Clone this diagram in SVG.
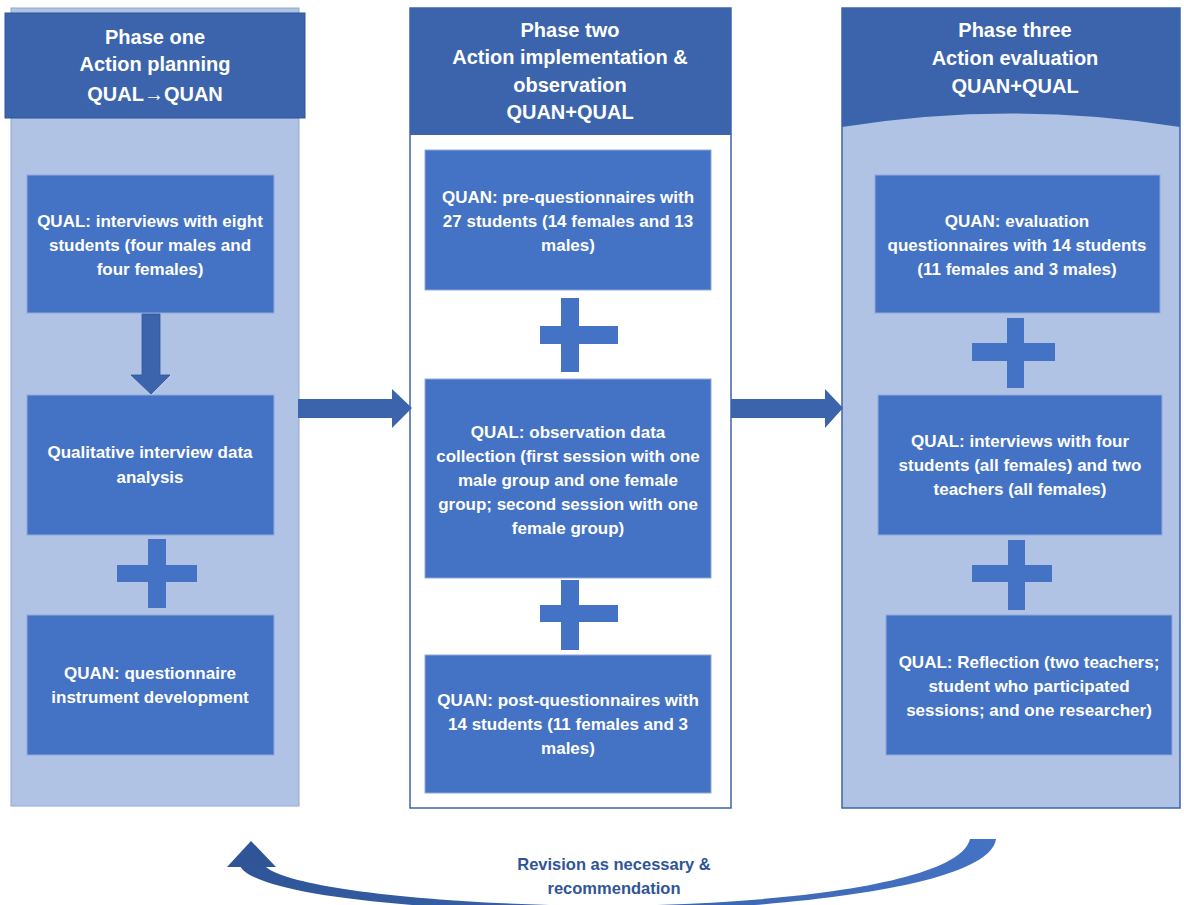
<svg xmlns="http://www.w3.org/2000/svg" width="1184" height="905" viewBox="0 0 1184 905">
<defs>
<style>
.hd{font-family:"Liberation Sans",Arial,sans-serif;font-weight:bold;font-size:20px;fill:#fff;text-anchor:middle}
.bt{font-family:"Liberation Sans",Arial,sans-serif;font-weight:bold;font-size:17px;fill:#fff;text-anchor:middle}
.box{fill:#4472C4;stroke:#8FAADC;stroke-width:1}
.dark{fill:#3C64AD}
.plus{fill:#4472C4}
.lt{fill:#B0C3E4}
.rv{font-family:"Liberation Sans",Arial,sans-serif;font-weight:bold;font-size:16.5px;fill:#2F5597;text-anchor:middle}
</style>
<linearGradient id="g" x1="0" y1="0" x2="1" y2="0">
<stop offset="0" stop-color="#2F5597"/>
<stop offset="1" stop-color="#4472C4"/>
</linearGradient>
</defs>
<rect width="1184" height="905" fill="#fff"/>

<g id="phase1">
<rect x="11" y="8" width="288" height="798" class="lt" stroke="#8EA8D8" stroke-width="1"/>
<rect x="5" y="13" width="300" height="105" class="dark" stroke="#2F5597" stroke-width="1"/>
<text class="hd" x="155" y="44">Phase one</text>
<text class="hd" x="155" y="71">Action planning</text>
<text class="hd" x="155" y="101">QUAL→QUAN</text>
</g>

<g id="phase2">
<rect x="410" y="8" width="321" height="800" fill="#fff" stroke="#3C64AD" stroke-width="1.5"/>
<rect x="410" y="8" width="321" height="127" class="dark"/>
<text class="hd" x="570" y="37">Phase two</text>
<text class="hd" x="570" y="64">Action implementation &amp;</text>
<text class="hd" x="570" y="92">observation</text>
<text class="hd" x="570" y="119">QUAN+QUAL</text>
</g>

<g id="phase3">
<rect x="842" y="8" width="338" height="800" class="lt" stroke="#3C64AD" stroke-width="1.5"/>
<path d="M842 8 H1180 V127 Q1011 100 842 127 Z" class="dark"/>
<text class="hd" x="1015" y="37">Phase three</text>
<text class="hd" x="1015" y="65">Action evaluation</text>
<text class="hd" x="1015" y="93">QUAN+QUAL</text>
</g>

<g id="box1"><rect x="27" y="175" width="247" height="138" class="box"/>
<text class="bt" x="150" y="227">QUAL: interviews with eight</text>
<text class="bt" x="150" y="251">students (four males and</text>
<text class="bt" x="150" y="275">four females)</text></g>

<g id="box2"><rect x="27" y="395" width="247" height="140" class="box"/>
<text class="bt" x="150" y="458">Qualitative interview data</text>
<text class="bt" x="150" y="483">analysis</text></g>

<g id="box3"><rect x="27" y="615" width="247" height="140" class="box"/>
<text class="bt" x="150" y="679">QUAN: questionnaire</text>
<text class="bt" x="150" y="703">instrument development</text></g>

<g id="boxA"><rect x="425" y="150" width="286" height="140" class="box"/>
<text class="bt" x="568" y="203">QUAN: pre-questionnaires with</text>
<text class="bt" x="568" y="227">27 students (14 females and 13</text>
<text class="bt" x="568" y="251">males)</text></g>

<g id="boxB"><rect x="425" y="379" width="286" height="199" class="box"/>
<text class="bt" x="568" y="438">QUAL: observation data</text>
<text class="bt" x="568" y="462">collection (first session with one</text>
<text class="bt" x="568" y="486">male group and one female</text>
<text class="bt" x="568" y="510">group; second session with one</text>
<text class="bt" x="568" y="534">female group)</text></g>

<g id="boxC"><rect x="425" y="655" width="286" height="138" class="box"/>
<text class="bt" x="568" y="706">QUAN: post-questionnaires with</text>
<text class="bt" x="568" y="730">14 students (11 females and 3</text>
<text class="bt" x="568" y="754">males)</text></g>

<g id="boxD"><rect x="875" y="175" width="285" height="138" class="box"/>
<text class="bt" x="1017" y="227">QUAN: evaluation</text>
<text class="bt" x="1017" y="251">questionnaires with 14 students</text>
<text class="bt" x="1017" y="275">(11 females and 3 males)</text></g>

<g id="boxE"><rect x="878" y="395" width="284" height="140" class="box"/>
<text class="bt" x="1020" y="447">QUAL: interviews with four</text>
<text class="bt" x="1020" y="471">students (all females) and  two</text>
<text class="bt" x="1020" y="495">teachers (all females)</text></g>

<g id="boxF"><rect x="886" y="615" width="286" height="140" class="box"/>
<text class="bt" x="1029" y="668">QUAL: Reflection (two teachers;</text>
<text class="bt" x="1029" y="692">student who participated</text>
<text class="bt" x="1029" y="716">sessions; and one researcher)</text></g>

<g id="pluses">
<rect x="148" y="539" width="18" height="69" class="plus"/><rect x="117" y="565" width="80" height="17" class="plus"/>
<rect x="561" y="298" width="18" height="74" class="plus"/><rect x="540" y="326" width="78" height="18" class="plus"/>
<rect x="561" y="580" width="18" height="70" class="plus"/><rect x="540" y="605" width="78" height="17" class="plus"/>
<rect x="1007" y="318" width="17" height="70" class="plus"/><rect x="972" y="343" width="83" height="18" class="plus"/>
<rect x="1008" y="540" width="17" height="70" class="plus"/><rect x="972" y="565" width="80" height="17" class="plus"/>
</g>

<g id="connectors">
<path d="M142 314 H160 V375 H170 L151 394 L131 375 H142 Z" class="dark" stroke="#2F5597" stroke-width="0.8"/>
<path d="M298 399 H392 V389 L412 408 L392 428 V418 H298 Z" class="dark"/>
<path d="M731 399 H825 V389 L843 408 L825 428 V418 H731 Z" class="dark"/>
<path d="M996 839 C990 885 800 908 610 912 C420 912 255 895 240 866 L265 866 C285 887 430 905 610 906 C790 904 960 882 970 839 Z" fill="url(#g)"/>
<path d="M227 867 L251 841 L276 867 Z" fill="#2F5597"/>
</g>

<g id="label">
<text class="rv" x="614" y="870">Revision as necessary &amp;</text>
<text class="rv" x="614" y="894">recommendation</text>
</g>
</svg>
